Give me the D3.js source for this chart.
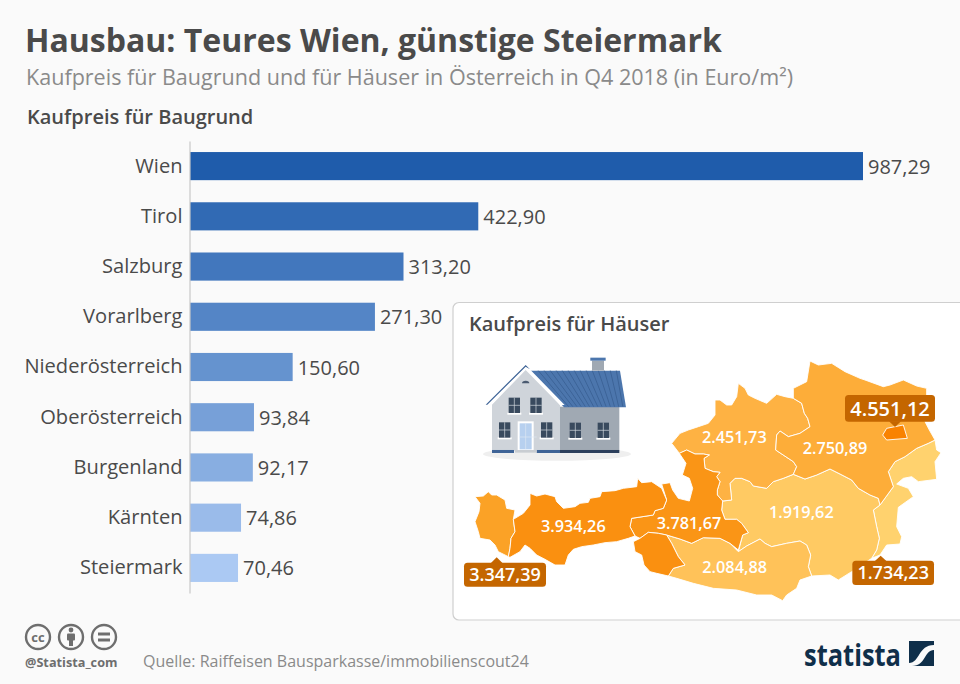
<!DOCTYPE html>
<html>
<head>
<meta charset="utf-8">
<script src="https://cdnjs.cloudflare.com/ajax/libs/d3/7.8.5/d3.min.js"></script>
<style>
  html, body { margin: 0; padding: 0; background: #fafafa; }
  svg { display: block; font-family: "Open Sans", sans-serif; }
</style>
</head>
<body>
<div id="chart"></div>
<script>
// Baugrund (Euro/m2)
let landCategories = ["Wien", "Tirol", "Salzburg", "Vorarlberg", "Niederösterreich", "Oberösterreich", "Burgenland", "Kärnten", "Steiermark"];
let landValues = [987.29, 422.90, 313.20, 271.30, 150.60, 93.84, 92.17, 74.86, 70.46];

// Häuser (Euro/m2)
let houseRegions = ["Wien", "Tirol", "Salzburg", "Vorarlberg", "Niederösterreich", "Oberösterreich", "Kärnten", "Steiermark", "Burgenland"];
let houseValues = [4551.12, 3934.26, 3781.67, 3347.39, 2750.89, 2451.73, 2084.88, 1919.62, 1734.23];

// Umrisse der Bundesländer, in Karteneinheiten
let outlineVorarlberg = [[[75,590],[100,588],[115,575],[125,585],[140,585],[165,600],[170,625],[195,630],[190,658],[195,695],[183,715],[180,745],[175,770],[145,755],[135,735],[120,720],[90,715],[85,695],[75,665],[87,635],[90,610]]];
let outlineTirol = [
  [[190,658],[220,640],[240,615],[240,580],[260,588],[285,582],[315,590],[320,605],[340,625],[375,620],[390,610],[415,607],[420,595],[450,590],[455,575],[495,572],[520,565],[560,560],[563,535],[575,548],[605,545],[635,565],[650,600],[640,625],[615,632],[610,645],[545,655],[540,680],[555,708],[535,715],[500,725],[465,728],[430,735],[395,740],[370,748],[355,765],[345,795],[315,795],[285,778],[260,765],[240,745],[225,735],[210,755],[180,772],[175,770],[180,745],[183,715],[195,695]],
  [[550,725],[570,715],[595,697],[625,700],[650,705],[665,730],[685,770],[705,795],[670,805],[655,828],[620,820],[600,815],[582,795],[575,765],[555,755]]
];
let outlineSalzburg = [[[688,460],[710,450],[735,462],[760,462],[778,465],[762,475],[765,505],[790,515],[810,517],[800,530],[810,545],[802,570],[802,585],[818,603],[815,630],[825,658],[860,658],[875,670],[895,698],[878,705],[865,750],[840,730],[810,715],[760,713],[725,730],[690,717],[650,705],[625,700],[595,697],[570,715],[555,708],[540,680],[545,655],[610,645],[615,632],[640,625],[650,600],[635,552],[660,548],[668,570],[685,595],[718,603],[728,565],[718,535],[697,525],[708,490]]];
let outlineOberoesterreich = [[[665,430],[690,400],[715,390],[745,380],[775,370],[795,345],[795,300],[810,300],[830,315],[845,315],[860,290],[865,250],[885,265],[895,285],[915,295],[950,310],[980,283],[1005,290],[1030,295],[1055,310],[1063,340],[1073,355],[1080,380],[1050,400],[1015,410],[990,393],[980,405],[977,450],[1030,485],[1040,500],[1030,523],[1000,535],[970,545],[950,565],[910,558],[900,545],[875,535],[855,535],[840,550],[842,570],[845,600],[818,603],[802,585],[802,570],[810,545],[800,530],[810,517],[790,515],[765,505],[762,475],[778,465],[760,462],[735,462],[710,450],[688,460]]];
let outlineNiederoesterreich = [[[1030,295],[1030,265],[1070,245],[1080,183],[1105,195],[1145,190],[1185,215],[1230,235],[1245,240],[1300,260],[1320,255],[1360,240],[1400,258],[1430,265],[1430,330],[1425,365],[1438,390],[1455,420],[1435,430],[1400,445],[1365,470],[1335,485],[1315,515],[1330,560],[1290,615],[1285,595],[1260,585],[1225,565],[1205,540],[1170,522],[1140,507],[1100,525],[1065,537],[1030,523],[1040,500],[1030,485],[977,450],[980,405],[990,393],[1015,410],[1050,400],[1080,380],[1073,355],[1063,340],[1055,310]]];
let outlineWien = [[[1298,405],[1310,385],[1335,380],[1360,375],[1372,415],[1310,420]]];
let outlineBurgenland = [[[1290,615],[1330,560],[1315,515],[1335,485],[1365,470],[1400,445],[1435,430],[1455,420],[1460,450],[1473,458],[1455,485],[1460,538],[1405,545],[1385,530],[1360,535],[1340,552],[1375,565],[1390,590],[1345,622],[1340,680],[1355,710],[1350,732],[1310,735],[1290,765],[1265,775],[1280,750],[1288,715],[1280,680],[1270,630]]];
let outlineSteiermark = [[[818,603],[845,600],[842,570],[840,550],[855,535],[875,535],[900,545],[910,558],[950,565],[970,545],[1000,535],[1030,523],[1065,537],[1100,525],[1140,507],[1170,522],[1205,540],[1225,565],[1260,585],[1285,595],[1290,615],[1270,630],[1280,680],[1288,715],[1280,750],[1265,775],[1205,815],[1165,840],[1140,825],[1085,828],[1075,800],[1082,765],[1070,735],[1050,723],[1010,730],[965,740],[945,730],[930,717],[890,738],[865,755],[878,705],[895,698],[875,670],[860,658],[825,658],[815,630]]];
let outlineKaernten = [[[650,705],[690,717],[725,730],[760,713],[810,715],[840,730],[865,755],[890,738],[930,717],[945,730],[965,740],[1010,730],[1050,723],[1070,735],[1082,765],[1075,800],[1085,828],[1050,840],[1040,865],[1010,885],[998,902],[965,885],[920,885],[860,870],[790,865],[730,850],[680,835],[655,828],[670,805],[705,795],[685,770],[665,730]]];

let outlines = {
  "Wien": outlineWien, "Tirol": outlineTirol, "Salzburg": outlineSalzburg,
  "Vorarlberg": outlineVorarlberg, "Niederösterreich": outlineNiederoesterreich,
  "Oberösterreich": outlineOberoesterreich, "Kärnten": outlineKaernten,
  "Steiermark": outlineSteiermark, "Burgenland": outlineBurgenland
};

let width = 960, height = 684;
let formatDe = d3.formatLocale({ decimal: ",", thousands: ".", grouping: [3], currency: ["", " €"] }).format(",.2f");

let svg = d3.select("#chart").append("svg")
  .attr("width", width)
  .attr("height", height);

svg.append("rect").attr("width", width).attr("height", height).attr("fill", "#fafafa");

// Titel
svg.append("text").attr("x", 25).attr("y", 52)
  .attr("font-size", 32).attr("font-weight", 700).attr("fill", "#4a4a4a")
  .text("Hausbau: Teures Wien, günstige Steiermark");
svg.append("text").attr("x", 26).attr("y", 85)
  .attr("font-size", 21.55).attr("fill", "#8a8a8a")
  .text("Kaufpreis für Baugrund und für Häuser in Österreich in Q4 2018 (in Euro/m²)");
svg.append("text").attr("x", 27).attr("y", 124)
  .attr("font-size", 20).attr("font-weight", 600).attr("fill", "#4a4a4a")
  .text("Kaufpreis für Baugrund");

// Balken
let x = d3.scaleLinear().domain([0, 987.29]).range([190, 863]);
let y = d3.scaleBand().domain(landCategories).range([141, 593]).paddingInner(0.44).paddingOuter(0.22);
let barColor = d3.scaleLinear().domain([0, landCategories.length - 1]).range(["#1f5cab", "#abc9f3"]);

svg.selectAll(".bar")
  .data(landCategories)
  .join("rect")
  .attr("class", "bar")
  .attr("x", x(0))
  .attr("y", d => y(d))
  .attr("width", (d, i) => x(landValues[i]) - x(0))
  .attr("height", y.bandwidth())
  .attr("fill", (d, i) => barColor(i));

svg.selectAll(".bar-value")
  .data(landCategories)
  .join("text")
  .attr("class", "bar-value")
  .attr("x", (d, i) => x(landValues[i]) + 5)
  .attr("y", d => y(d) + y.bandwidth() / 2 + 7.5)
  .attr("font-size", 20)
  .attr("fill", "#4a4a4a")
  .text((d, i) => formatDe(landValues[i]));

let yAxisCall = d3.axisLeft(y).tickSize(0).tickPadding(7);
let yAxis = svg.append("g")
  .attr("class", "y-axis")
  .attr("transform", "translate(189.5,0)")
  .call(yAxisCall);
yAxis.select(".domain").attr("stroke", "#c8c8c8").attr("stroke-width", 1.2);
yAxis.selectAll("text").attr("font-size", 20.1).attr("fill", "#4a4a4a").attr("font-family", "Open Sans");

// Kasten mit Karte
svg.append("rect")
  .attr("x", 453).attr("y", 302.5).attr("width", 540).attr("height", 317.5)
  .attr("rx", 6).attr("fill", "#fff").attr("stroke", "#cfcfcf").attr("stroke-width", 1.2);
svg.append("text").attr("x", 469).attr("y", 331)
  .attr("font-size", 20).attr("font-weight", 600).attr("fill", "#4a4a4a")
  .text("Kaufpreis für Häuser");

let mapX = d3.scaleLinear().domain([0, 1530]).range([450, 960]);
let mapY = d3.scaleLinear().domain([0, 975]).range([300, 625]);
let mapLine = d3.line().x(d => mapX(d[0])).y(d => mapY(d[1])).curve(d3.curveLinearClosed);
let mapColor = d3.scaleLinear()
  .domain([1734.23, 2451.73, 3347.39, 3934.26, 4551.12])
  .range(["#ffd26e", "#feb243", "#fba226", "#fa9010", "#f98200"]);

let regions = svg.append("g").attr("class", "map");
houseRegions.slice().reverse().forEach(name => {
  let value = houseValues[houseRegions.indexOf(name)];
  regions.selectAll(null)
    .data(outlines[name])
    .join("path")
    .attr("d", mapLine)
    .attr("fill", mapColor(value))
    .attr("stroke", "#fff")
    .attr("stroke-width", 0.9)
    .attr("stroke-linejoin", "round");
});

// Beschriftung direkt in der Karte
let inlineSpots = { "Tirol": [370, 678], "Salzburg": [717, 668], "Niederösterreich": [1155, 445], "Oberösterreich": [853, 412], "Kärnten": [854, 801], "Steiermark": [1054, 637] };
Object.keys(inlineSpots).forEach(name => {
  svg.append("text")
    .attr("x", mapX(inlineSpots[name][0]))
    .attr("y", mapY(inlineSpots[name][1]) + 6)
    .attr("text-anchor", "middle")
    .attr("font-size", 16.3).attr("font-weight", 600).attr("fill", "#fff")
    .text(formatDe(houseValues[houseRegions.indexOf(name)]));
});

// Beschriftung mit Zeiger
let calloutSpots = {
  "Wien": { box: [1185, 285, 1455, 365], tip: [1335, 381], size: 20, down: true },
  "Vorarlberg": { box: [42, 788, 288, 860], tip: [140, 772], size: 18, down: false },
  "Burgenland": { box: [1207, 782, 1452, 855], tip: [1292, 767], size: 18, down: false }
};
Object.keys(calloutSpots).forEach(name => {
  let c = calloutSpots[name];
  let x0 = mapX(c.box[0]), y0 = mapY(c.box[1]), x1 = mapX(c.box[2]), y1 = mapY(c.box[3]);
  let tx = mapX(c.tip[0]), ty = mapY(c.tip[1]);
  let base = c.down ? y1 - 0.5 : y0 + 0.5;
  svg.append("path")
    .attr("d", d3.line()([[tx - 6, base], [tx, ty], [tx + 6, base]]))
    .attr("fill", "#c46600");
  svg.append("rect")
    .attr("x", x0).attr("y", y0).attr("width", x1 - x0).attr("height", y1 - y0)
    .attr("rx", 3.5).attr("fill", "#c46600");
  svg.append("text")
    .attr("x", (x0 + x1) / 2).attr("y", (y0 + y1) / 2 + c.size * 0.36)
    .attr("text-anchor", "middle")
    .attr("font-size", c.size).attr("font-weight", 600).attr("fill", "#fff")
    .text(formatDe(houseValues[houseRegions.indexOf(name)]));
});

// Haus-Symbol
let house = svg.append("g").attr("transform", "translate(470,350) scale(0.3333)");
house.append("ellipse").attr("cx", 261).attr("cy", 312).attr("rx", 222).attr("ry", 20).attr("fill", "#efefef");
house.append("rect").attr("x", 268).attr("y", 170).attr("width", 180).attr("height", 132).attr("fill", "#a0a9b3");
house.append("path").attr("d", "M66,162L167,52L270,165V302H66Z").attr("fill", "#cfd4da");
house.append("rect").attr("x", 66).attr("y", 300).attr("width", 66).attr("height", 9).attr("fill", "#3f6497");
house.append("rect").attr("x", 200).attr("y", 300).attr("width", 70).attr("height", 9).attr("fill", "#3f6497");
house.append("rect").attr("x", 270).attr("y", 300).attr("width", 178).attr("height", 9).attr("fill", "#2c3f5c");
house.append("rect").attr("x", 135).attr("y", 300).attr("width", 65).attr("height", 8).attr("fill", "#c9cdd2");
// Dach
house.append("path").attr("d", "M180,62H450L468,172H282Z").attr("fill", "#4c76ad");
d3.range(14).forEach(i => {
  house.append("line")
    .attr("x1", 205 + i * 18).attr("y1", 62).attr("x2", 296 + i * 12.5).attr("y2", 170)
    .attr("stroke", "#3c6398").attr("stroke-width", 3);
});
house.append("path").attr("d", "M47,164L167,45L284,165L270,165L167,60L66,164Z").attr("fill", "#fff");
house.append("path").attr("d", "M47,164L167,45L180,58L167,50L52,164Z").attr("fill", "#3f6497");
house.append("rect").attr("x", 366).attr("y", 32).attr("width", 36).attr("height", 30).attr("fill", "#a0a9b3");
house.append("rect").attr("x", 361).attr("y", 23).attr("width", 46).attr("height", 9).attr("fill", "#4c76ad");
house.append("path").attr("d", "M156,100A11,8 0 0 1 178,100Z").attr("fill", "#4a5a70");
// Fenster
let windows = [[116, 143], [181, 143], [87, 217], [213, 217], [299, 218], [383, 218]];
windows.forEach(w => {
  house.append("rect").attr("x", w[0] - 4).attr("y", w[1] + 45).attr("width", 42).attr("height", 6).attr("fill", "#fff");
  house.append("rect").attr("x", w[0]).attr("y", w[1]).attr("width", 34).attr("height", 46).attr("fill", "#394a5e");
  house.append("line").attr("x1", w[0] + 17).attr("x2", w[0] + 17).attr("y1", w[1]).attr("y2", w[1] + 46).attr("stroke", "#d8dde2").attr("stroke-width", 2);
  house.append("line").attr("x1", w[0]).attr("x2", w[0] + 34).attr("y1", w[1] + 23).attr("y2", w[1] + 23).attr("stroke", "#d8dde2").attr("stroke-width", 2);
});
house.append("rect").attr("x", 143).attr("y", 214).attr("width", 48).attr("height", 86).attr("fill", "#fff");
house.append("rect").attr("x", 149).attr("y", 220).attr("width", 36).attr("height", 78).attr("fill", "#b7d0ef");
house.append("line").attr("x1", 167).attr("x2", 167).attr("y1", 220).attr("y2", 298).attr("stroke", "#dfe8f3").attr("stroke-width", 2);
house.append("line").attr("x1", 149).attr("x2", 200).attr("y1", 261).attr("y2", 261).attr("stroke", "#dfe8f3").attr("stroke-width", 2);

// Lizenz-Symbole
let badge = svg.append("g").attr("fill", "none").attr("stroke", "#6e6e6e").attr("stroke-width", 2.4);
[38, 71, 104].forEach(cx => badge.append("circle").attr("cx", cx).attr("cy", 637).attr("r", 12));
svg.append("text").attr("x", 38).attr("y", 642).attr("text-anchor", "middle")
  .attr("font-size", 13).attr("font-weight", 700).attr("fill", "#6e6e6e").text("cc");
svg.append("circle").attr("cx", 71).attr("cy", 630).attr("r", 2.4).attr("fill", "#6e6e6e");
svg.append("rect").attr("x", 67).attr("y", 633.5).attr("width", 8).attr("height", 7).attr("rx", 1).attr("fill", "#6e6e6e");
svg.append("rect").attr("x", 69).attr("y", 640).attr("width", 4).attr("height", 6).attr("fill", "#6e6e6e");
svg.append("rect").attr("x", 98).attr("y", 632.5).attr("width", 12).attr("height", 3).attr("fill", "#6e6e6e");
svg.append("rect").attr("x", 98).attr("y", 638.5).attr("width", 12).attr("height", 3).attr("fill", "#6e6e6e");

svg.append("text").attr("x", 25).attr("y", 667)
  .attr("font-size", 12.7).attr("font-weight", 700).attr("fill", "#6e6e6e")
  .text("@Statista_com");
svg.append("text").attr("x", 143).attr("y", 667)
  .attr("font-size", 16).attr("fill", "#8a8a8a")
  .text("Quelle: Raiffeisen Bausparkasse/immobilienscout24");

// Logo
svg.append("text").attr("x", 804).attr("y", 666)
  .attr("font-size", 31).attr("font-weight", 700).attr("fill", "#0f2f4a")
  .attr("textLength", 97).attr("lengthAdjust", "spacingAndGlyphs")
  .text("statista");
svg.append("rect").attr("x", 909).attr("y", 641).attr("width", 25).attr("height", 25).attr("fill", "#0f2f4a");
svg.append("path")
  .attr("d", "M909,663C920,663 918,645 934,645V650C924,650 926,666 912,666H909Z")
  .attr("fill", "#fafafa");
</script>
</body>
</html>
